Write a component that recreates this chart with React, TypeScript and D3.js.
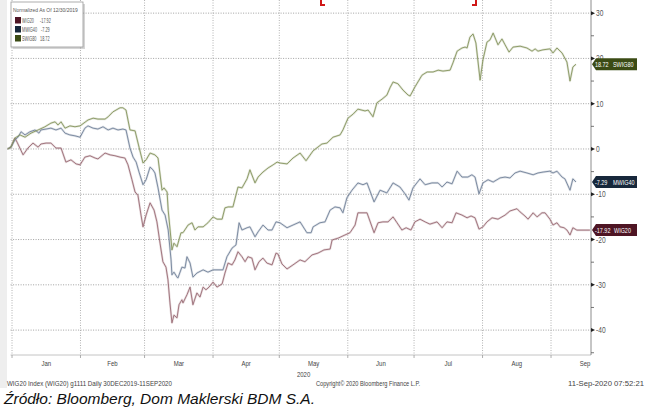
import React from "react";
import * as d3 from "d3";

// day offsets since 30 Dec 2019, normalized % change
const swig80Days = [0,1.5,3.3,5.6,7.9,10.6,13.8,16.9,19.6,21.5,22.8,24.2,26.0,28.2,30.5,32.8,36.4,38.7,40.9,44.1,45.5,47.7,50.9,52.2,53.6,55.4,57.7,59.5,61.3,62.7,64.5,66.7,68.1,69.9,70.8,72.2,72.7,74.0,74.4,75.3,76.7,78.5,79.4,81.7,83.5,84.8,86.2,88.5,90.7,93.0,94.8,97.1,98.4,99.8,102.0,104.3,106.1,108.4,109.7,112.0,113.4,115.6,117.9,120.2,122.0,123.3,126.5,129.2,132.4,135.1,138.3,142.3,144.6,147.3,150.5,151.8,154.1,156.4,158.6,161.8,163.2,165.4,167.2,169.5,171.7,173.1,174.5,176.7,179.0,181.3,182.2,184.4,187.6,189.9,192.6,194.9,197.1,200.3,201.6,203.5,205.7,207.1,208.0,209.3,210.7,212.0,213.9,215.2,217.0,218.4,219.8,222.0,223.8,225.2,227.0,228.8,232.0,235.1,237.4,238.8,240.1,242.4,245.5,246.9,248.7,251.0,253.2,254.6,255.9,257.3];
const swig80Values = [0,0.4,2.4,3.1,2.6,3.5,4.2,4.9,5.7,6.0,5.3,6.0,4.6,5.1,4.9,5.1,6.4,6.8,6.6,6.6,7.1,8.2,9.1,9.1,8.6,4.2,4.0,0.4,-3.1,-2.4,-0.9,-1.3,-2.0,-9.1,-8.6,-9.5,-13.5,-20.1,-22.3,-20.8,-21.6,-18.5,-18.5,-16.8,-16.3,-17.9,-17.2,-17.2,-16.3,-15.0,-15.5,-15.5,-13.0,-12.8,-12.8,-8.4,-8.6,-6.6,-4.6,-7.5,-6.2,-5.1,-4.2,-3.5,-2.9,-3.1,-3.3,-2.0,-0.9,-2.6,-0.4,1.1,1.3,2.6,3.1,4.2,6.8,7.7,8.8,8.4,8.6,7.1,10.2,11.0,11.9,13.5,14.8,14.4,13.0,11.9,11.7,13.7,16.3,17.0,17.0,17.4,17.2,17.4,19.0,21.6,22.3,22.5,22.3,24.7,25.4,23.4,15.2,19.7,23.6,24.1,25.6,23.0,24.3,23.0,21.4,22.5,22.7,22.3,21.6,22.1,21.6,21.9,22.1,21.2,22.3,21.2,19.2,15.0,18.1,18.72];

const mwig40Days = [0,1.5,3.3,4.7,6.1,7.9,10.1,12.4,14.2,15.1,17.4,19.6,21.9,24.2,26.0,28.2,30.5,32.8,35.0,36.4,38.7,40.9,43.2,45.5,47.7,50.0,52.2,53.6,55.4,56.8,58.2,59.5,61.3,62.7,64.5,65.8,66.7,68.1,69.9,71.3,72.7,74.0,74.4,75.3,76.7,77.1,78.9,80.3,81.2,82.6,83.9,85.7,88.5,90.7,93.0,96.2,97.5,99.3,101.6,103.4,104.8,106.1,108.4,109.7,112.0,113.4,115.6,117.9,119.7,121.5,123.3,126.5,129.2,132.4,135.5,137.4,138.3,141.4,143.7,146.0,148.2,150.5,151.8,153.6,155.9,158.6,160.9,162.7,165.9,168.6,171.7,174.5,177.6,179.9,181.7,183.5,186.7,189.0,192.1,194.9,196.7,198.9,201.2,203.5,205.7,208.4,210.2,211.6,213.4,215.2,217.5,219.8,222.9,225.2,227.4,229.7,232.0,235.1,237.9,240.1,242.4,245.5,246.9,248.7,251.0,252.3,254.6,255.9,257.3];
const mwig40Values = [0,0.4,2.0,2.6,3.8,3.1,3.8,4.2,3.5,4.2,4.4,4.6,4.2,4.6,3.5,3.1,2.9,2.6,4.6,5.1,4.6,4.4,4.9,4.2,4.6,4.2,4.4,4.2,0.2,-1.8,-2.9,-5.1,-7.9,-6.8,-4.0,-4.6,-5.3,-8.6,-13.5,-14.6,-17.9,-24.5,-27.8,-27.2,-28.3,-28.5,-26.1,-26.3,-23.8,-25.2,-28.3,-27.4,-26.7,-27.2,-26.7,-26.7,-26.7,-23.8,-21.9,-21.2,-16.3,-17.9,-17.4,-17.2,-19.4,-18.3,-16.8,-17.9,-17.9,-16.1,-16.3,-17.4,-16.8,-16.1,-18.5,-18.5,-17.2,-16.3,-16.1,-13.5,-12.8,-13.0,-14.1,-10.8,-9.1,-7.5,-7.9,-7.5,-11.7,-9.1,-9.7,-7.5,-8.4,-9.9,-11.3,-8.6,-6.6,-7.9,-7.5,-7.5,-8.4,-7.3,-7.7,-4.9,-6.2,-6.2,-5.7,-6.2,-9.9,-7.5,-6.8,-7.3,-6.4,-6.2,-6.4,-5.3,-4.9,-5.3,-5.7,-5.3,-5.1,-4.9,-5.3,-4.9,-6.2,-6.6,-9.1,-6.6,-7.29];

const wig20Days = [0,1.5,3.3,4.3,7.0,9.2,11.5,13.8,15.1,17.4,19.6,21.9,24.2,26.4,28.7,31.0,32.8,35.0,37.3,39.6,40.9,44.1,46.4,48.6,50.9,53.1,54.5,56.3,57.7,59.0,60.4,61.3,62.7,64.5,66.3,67.6,69.0,70.3,71.7,72.6,73.5,74.4,75.3,76.7,77.6,78.9,79.4,81.2,82.6,83.9,85.7,87.1,88.5,89.8,91.2,93.0,94.8,97.1,98.4,99.8,101.6,102.9,104.3,106.1,107.5,108.8,110.6,112.0,113.8,115.6,117.4,119.7,121.5,122.4,124.2,126.5,129.2,132.4,134.6,137.8,140.5,143.2,146.0,146.9,149.6,152.7,155.0,157.3,158.6,161.8,162.7,165.9,167.7,169.9,172.2,174.5,176.3,178.5,180.4,182.6,184.4,186.7,189.0,191.2,194.4,196.7,198.9,201.2,203.0,205.7,208.0,209.8,211.6,213.4,215.2,217.0,219.3,222.0,225.2,227.4,230.6,232.0,234.2,235.6,237.9,239.7,241.9,243.3,245.5,246.9,248.7,250.1,251.9,253.2,254.6,255.9,257.7,263.6];
const wig20Values = [0,0.4,2.4,1.5,-1.3,0.2,1.3,0.4,1.1,1.3,1.3,0.2,0.2,-2.9,-2.4,-3.3,-3.5,-1.8,-1.5,-2.0,-2.2,-0.9,-1.3,-1.5,-1.8,-2.0,-3.5,-6.8,-9.5,-10.2,-14.6,-17.2,-14.6,-11.9,-13.5,-16.1,-20.8,-24.9,-26.1,-28.9,-34.0,-38.4,-36.7,-37.3,-34.4,-33.3,-34.0,-32.2,-30.5,-34.4,-31.8,-32.7,-30.5,-31.1,-30.5,-29.4,-30.5,-29.8,-27.4,-25.2,-25.6,-24.5,-22.7,-23.8,-24.9,-23.8,-24.1,-26.7,-24.9,-24.1,-25.2,-25.6,-23.0,-23.2,-25.4,-26.5,-25.6,-24.5,-24.9,-23.4,-23.0,-22.3,-22.1,-20.1,-19.7,-19.0,-18.5,-16.8,-14.1,-14.1,-14.1,-18.5,-16.3,-16.1,-16.1,-15.0,-16.3,-17.9,-17.4,-17.9,-16.1,-15.5,-16.1,-16.6,-16.1,-17.4,-16.1,-16.3,-14.1,-14.6,-15.2,-14.8,-15.2,-17.7,-17.2,-16.1,-15.2,-15.5,-14.6,-13.7,-13.2,-13.9,-14.8,-15.5,-14.1,-15.0,-14.1,-14.1,-15.5,-16.8,-16.3,-17.2,-17.4,-17.9,-19.0,-17.4,-17.92,-17.92];

const seriesNames = ["WIG20", "MWIG40", "SWIG80"];
const lastValues = [-17.92, -7.29, 18.72];
const yTicks = [30, 20, 10, 0, -10, -20, -30, -40];
const monthLabels = ["Jan", "Feb", "Mar", "Apr", "May", "Jun", "Jul", "Aug", "Sep"];

const START = new Date(Date.UTC(2019, 11, 30));
const toDate = (d: number) => new Date(START.getTime() + d * 86400000);

const lineColors = ["#9a6b75", "#73829a", "#86955f"];
const tagColors = ["#4e1524", "#17283b", "#3b4b14"];

type CTProps = { x: number; y: number; sx: number; size: number; fill: string; anchor?: string; children: React.ReactNode };
function CText({ x, y, sx, size, fill, anchor, children }: CTProps) {
  return (
    <text transform={`translate(${x},${y}) scale(${sx},1)`} fontSize={size} fill={fill}
      textAnchor={anchor || "start"}>{children}</text>
  );
}

export default function App() {
  const W = 646, H = 409;
  const left = 7.6, right = 591, top = 0, bottom = 355;
  const x = d3.scaleUtc().domain([START, toDate(264.1)]).range([left, right]);
  const y = d3.scaleLinear().domain([-45.5, 32.9]).range([bottom, top]);

  const series = [
    { days: wig20Days, vals: wig20Values },
    { days: mwig40Days, vals: mwig40Values },
    { days: swig80Days, vals: swig80Values },
  ];
  const line = d3.line<[number, number]>()
    .x((p) => x(toDate(p[0])))
    .y((p) => y(p[1]));

  const months = d3.utcMonth.range(new Date(Date.UTC(2020, 0, 1)), new Date(Date.UTC(2020, 8, 2)));
  const monthX = months.map((m) => x(m));
  const labelX = monthX.map((mx, i) => (i < monthX.length - 1 ? (mx + monthX[i + 1]) / 2 : mx + 34));

  const minorTicks = d3.range(-45, 33, 5).filter((v) => v % 10 !== 0);

  return (
    <svg width={W} height={H} style={{ position: "absolute", left: 0, top: 0, background: "#fff" }}
      fontFamily="'Liberation Sans', Arial, sans-serif">
      <rect x={0} y={0} width={W} height={H} fill="#fff" />
      <rect x={0} y={0} width={7} height={388} fill="#eeeeee" />
      {/* red title bracket fragments */}
      <path d="M321,0 V5 H325" fill="none" stroke="#d01818" strokeWidth={2} />
      <path d="M476,0 V5 H472" fill="none" stroke="#d01818" strokeWidth={2} />

      {/* grid */}
      {yTicks.map((t) => (
        <line key={"h" + t} x1={left + 3} x2={right} y1={y(t)} y2={y(t)} stroke="#8a8a8a" strokeWidth={0.8} strokeDasharray="1,1.5" />
      ))}
      {monthX.map((mx, i) => (
        <line key={"v" + i} x1={mx} x2={mx} y1={top} y2={bottom} stroke="#a0a0a0" strokeWidth={0.8} strokeDasharray="1,1.5" />
      ))}
      <line x1={left + 3} x2={right} y1={bottom} y2={bottom} stroke="#b5b5b5" strokeWidth={0.8} />
      {monthX.map((mx, i) => (
        <line key={"bt" + i} x1={mx} x2={mx} y1={bottom} y2={bottom + 3} stroke="#999" strokeWidth={0.8} />
      ))}
      <line x1={right} x2={right} y1={top} y2={bottom} stroke="#8c8c8c" strokeWidth={1} />

      {/* right axis ticks */}
      {minorTicks.map((t) => (
        <line key={"m" + t} x1={right} x2={right + 3} y1={y(t)} y2={y(t)} stroke="#555" strokeWidth={0.8} />
      ))}
      {yTicks.map((t) => (
        <g key={"yt" + t}>
          <path d={`M${right},${y(t) - 2} L${right + 4},${y(t)} L${right},${y(t) + 2} Z`} fill="#222" />
          <CText x={right + 5} y={y(t) + 3} sx={0.78} size={8.5} fill="#555">{t}</CText>
        </g>
      ))}

      {/* lines */}
      {series.map((s, i) => (
        <path key={"halo" + i}
          d={line(s.days.map((d, j) => [d, s.vals[j]] as [number, number])) || ""}
          fill="none" stroke={lineColors[i]} strokeOpacity={0.25} strokeWidth={2.2} strokeLinejoin="round" />
      ))}
      {series.map((s, i) => (
        <path key={"l" + i}
          d={line(s.days.map((d, j) => [d, s.vals[j]] as [number, number])) || ""}
          fill="none" stroke={lineColors[i]} strokeWidth={0.9} strokeLinejoin="round" />
      ))}

      {/* value tags */}
      {seriesNames.map((n, i) => {
        const ty = y(lastValues[i]);
        const v = lastValues[i].toFixed(2);
        return (
          <g key={"tag" + n}>
            <path d={`M${right + 1},${ty} L${right + 5},${ty - 6} H${637} V${ty + 6} H${right + 5} Z`} fill={tagColors[i]} />
            <CText x={right + 4} y={ty + 2.8} sx={0.68} size={8} fill="#fff">{v}</CText>
            <CText x={i === 0 ? 614 : 613} y={ty + 2.8} sx={0.68} size={8} fill="#fff">{n}</CText>
          </g>
        );
      })}

      {/* legend */}
      <rect x={13} y={4} width={72} height={45} fill="#888" opacity={0.35} />
      <rect x={11} y={2} width={72} height={45} fill="#fff" stroke="#999" strokeWidth={0.8} />
      <CText x={13} y={11.5} sx={0.8} size={6.2} fill="#555">Normalized As Of 12/30/2019</CText>
      {seriesNames.map((n, i) => {
        const v = lastValues[i].toFixed(2);
        return (
          <g key={"lg" + n}>
            <rect x={15} y={17 + i * 9} width={6} height={6.5} fill={tagColors[i]} />
            <CText x={22} y={23 + i * 9} sx={0.6} size={6.4} fill="#555">{n}</CText>
            <CText x={i === 1 ? 41 : 40} y={23 + i * 9} sx={0.6} size={6.4} fill="#555">{v}</CText>
          </g>
        );
      })}

      {/* month labels */}
      {monthLabels.map((m, i) => (
        <CText key={m} x={labelX[i]} y={366} sx={0.75} size={8} fill="#444" anchor="middle">{m}</CText>
      ))}
      <CText x={labelX[4] - 10} y={377} sx={0.75} size={8} fill="#444" anchor="middle">2020</CText>

      {/* footer */}
      <text x={7} y={386} fontSize={6.3} fill="#444" textLength={165} lengthAdjust="spacingAndGlyphs">WIG20 Index (WIG20) g1111  Daily 30DEC2019-11SEP2020</text>
      <text x={316} y={386} fontSize={6.3} fill="#444" textLength={104} lengthAdjust="spacingAndGlyphs">Copyright© 2020 Bloomberg Finance L.P.</text>
      <text x={568} y={386} fontSize={6.3} fill="#444" textLength={76} lengthAdjust="spacingAndGlyphs">11-Sep-2020 07:52:21</text>
      <text x={4} y={404} fontSize={15.5} fontStyle="italic" fill="#111">Źródło: Bloomberg, Dom Maklerski BDM S.A.</text>
    </svg>
  );
}
